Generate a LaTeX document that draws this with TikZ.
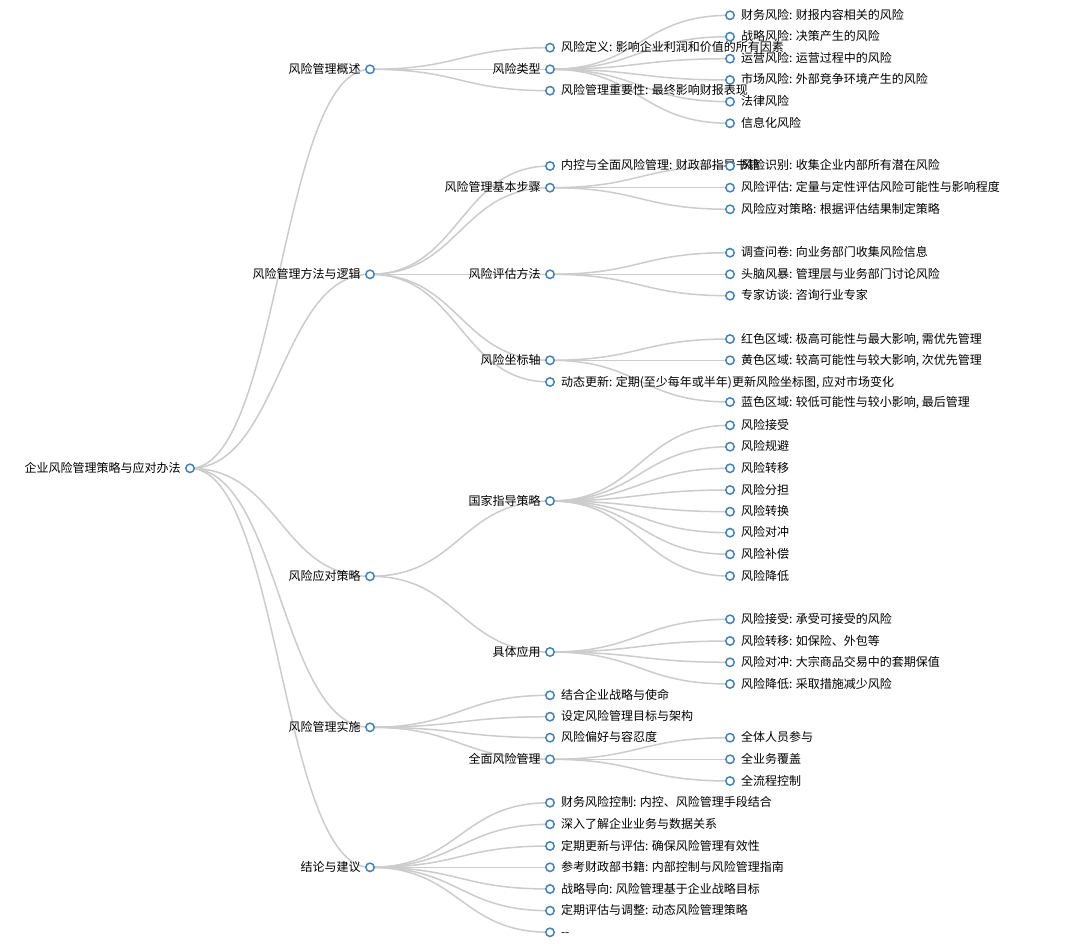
\documentclass[tikz,border=0pt]{standalone}
\usepackage{fontspec}
\newfontfamily\cjk{Noto Sans CJK SC}
\usetikzlibrary{backgrounds}
\definecolor{nodeblue}{HTML}{4682B4}
\definecolor{linkgray}{HTML}{CCCCCC}
\begin{document}
\begin{tikzpicture}[x=1pt,y=-1pt,
  dot/.style={circle, draw=nodeblue, fill=white, line width=1.5pt, minimum size=8.4pt, inner sep=0pt, outer sep=0pt},
  txt/.style={font=\cjk\fontsize{12}{14}\selectfont, text=black, inner sep=0pt, text height=9.6pt, text depth=1.6pt},
  lr/.style={label={[txt,label distance=6.6pt]right:{#1}}},
  ll/.style={label={[txt,label distance=5pt]left:{#1}}},
  link/.style={draw=linkgray, line width=1.5pt, to path={.. controls +(90,0) and +(-90,0) .. (\tikztotarget)}}]
\useasboundingbox (0,0) rectangle (1078,944);
% depth 0
\node[dot,ll={企业风险管理策略与应对办法}] (root) at (190,468.3) {};
% depth 1
\node[dot,ll={风险管理概述}] (a) at (370,69.3) {};
\node[dot,ll={风险管理方法与逻辑}] (b) at (370,274.3) {};
\node[dot,ll={风险应对策略}] (c) at (370,576.3) {};
\node[dot,ll={风险管理实施}] (d) at (370,727.3) {};
\node[dot,ll={结论与建议}] (e) at (370,867.3) {};
% depth 2
\node[dot,lr={风险定义: 影响企业利润和价值的所有因素}] (a1) at (550,47.7) {};
\node[dot,ll={风险类型}] (a2) at (550,69.3) {};
\node[dot,lr={风险管理重要性: 最终影响财报表现}] (a3) at (550,90.7) {};
\node[dot,lr={内控与全面风险管理: 财政部指导书籍}] (b1) at (550,166) {};
\node[dot,ll={风险管理基本步骤}] (b2) at (550,187.7) {};
\node[dot,ll={风险评估方法}] (b3) at (550,274.3) {};
\node[dot,ll={风险坐标轴}] (b4) at (550,360.3) {};
\node[dot,lr={动态更新: 定期(至少每年或半年)更新风险坐标图, 应对市场变化}] (b5) at (550,382) {};
\node[dot,ll={国家指导策略}] (c1) at (550,501) {};
\node[dot,ll={具体应用}] (c2) at (550,652) {};
\node[dot,lr={结合企业战略与使命}] (d1) at (550,695.3) {};
\node[dot,lr={设定风险管理目标与架构}] (d2) at (550,716.7) {};
\node[dot,lr={风险偏好与容忍度}] (d3) at (550,737.7) {};
\node[dot,ll={全面风险管理}] (d4) at (550,759.3) {};
\node[dot,lr={财务风险控制: 内控、风险管理手段结合}] (e1) at (550,802.7) {};
\node[dot,lr={深入了解企业业务与数据关系}] (e2) at (550,824.3) {};
\node[dot,lr={定期更新与评估: 确保风险管理有效性}] (e3) at (550,846) {};
\node[dot,lr={参考财政部书籍: 内部控制与风险管理指南}] (e4) at (550,867.3) {};
\node[dot,lr={战略导向: 风险管理基于企业战略目标}] (e5) at (550,889) {};
\node[dot,lr={定期评估与调整: 动态风险管理策略}] (e6) at (550,910.7) {};
\node[dot,lr={{-}{-}}] (e7) at (550,932.3) {};
% depth 3
\node[dot,lr={财务风险: 财报内容相关的风险}] (a2a) at (730,15.3) {};
\node[dot,lr={战略风险: 决策产生的风险}] (a2b) at (730,36.7) {};
\node[dot,lr={运营风险: 运营过程中的风险}] (a2c) at (730,58.7) {};
\node[dot,lr={市场风险: 外部竞争环境产生的风险}] (a2d) at (730,80) {};
\node[dot,lr={法律风险}] (a2e) at (730,101.7) {};
\node[dot,lr={信息化风险}] (a2f) at (730,123.3) {};
\node[dot,lr={风险识别: 收集企业内部所有潜在风险}] (b2a) at (730,166) {};
\node[dot,lr={风险评估: 定量与定性评估风险可能性与影响程度}] (b2b) at (730,187.7) {};
\node[dot,lr={风险应对策略: 根据评估结果制定策略}] (b2c) at (730,209.3) {};
\node[dot,lr={调查问卷: 向业务部门收集风险信息}] (b3a) at (730,252.7) {};
\node[dot,lr={头脑风暴: 管理层与业务部门讨论风险}] (b3b) at (730,274.3) {};
\node[dot,lr={专家访谈: 咨询行业专家}] (b3c) at (730,295.7) {};
\node[dot,lr={红色区域: 极高可能性与最大影响, 需优先管理}] (b4a) at (730,339) {};
\node[dot,lr={黄色区域: 较高可能性与较大影响, 次优先管理}] (b4b) at (730,360.3) {};
\node[dot,lr={蓝色区域: 较低可能性与较小影响, 最后管理}] (b4c) at (730,402) {};
\node[dot,lr={风险接受}] (c1a) at (730,425.3) {};
\node[dot,lr={风险规避}] (c1b) at (730,446.7) {};
\node[dot,lr={风险转移}] (c1c) at (730,468.3) {};
\node[dot,lr={风险分担}] (c1d) at (730,490) {};
\node[dot,lr={风险转换}] (c1e) at (730,511.7) {};
\node[dot,lr={风险对冲}] (c1f) at (730,532.7) {};
\node[dot,lr={风险补偿}] (c1g) at (730,554.3) {};
\node[dot,lr={风险降低}] (c1h) at (730,576) {};
\node[dot,lr={风险接受: 承受可接受的风险}] (c2a) at (730,619.3) {};
\node[dot,lr={风险转移: 如保险、外包等}] (c2b) at (730,641) {};
\node[dot,lr={风险对冲: 大宗商品交易中的套期保值}] (c2c) at (730,662.3) {};
\node[dot,lr={风险降低: 采取措施减少风险}] (c2d) at (730,684) {};
\node[dot,lr={全体人员参与}] (d4a) at (730,737.7) {};
\node[dot,lr={全业务覆盖}] (d4b) at (730,759.3) {};
\node[dot,lr={全流程控制}] (d4c) at (730,781) {};
\begin{pgfonlayer}{background}
\fill[white] (0,0) rectangle (1078,944);
\path[link] (root.center) edge (a.center) edge (b.center) edge (c.center) edge (d.center) edge (e.center);
\path[link] (a.center) edge (a1.center) edge (a2.center) edge (a3.center);
\path[link] (a2.center) edge (a2a.center) edge (a2b.center) edge (a2c.center) edge (a2d.center) edge (a2e.center) edge (a2f.center);
\path[link] (b.center) edge (b1.center) edge (b2.center) edge (b3.center) edge (b4.center) edge (b5.center);
\path[link] (b2.center) edge (b2a.center) edge (b2b.center) edge (b2c.center);
\path[link] (b3.center) edge (b3a.center) edge (b3b.center) edge (b3c.center);
\path[link] (b4.center) edge (b4a.center) edge (b4b.center) edge (b4c.center);
\path[link] (c.center) edge (c1.center) edge (c2.center);
\path[link] (c1.center) edge (c1a.center) edge (c1b.center) edge (c1c.center) edge (c1d.center) edge (c1e.center) edge (c1f.center) edge (c1g.center) edge (c1h.center);
\path[link] (c2.center) edge (c2a.center) edge (c2b.center) edge (c2c.center) edge (c2d.center);
\path[link] (d.center) edge (d1.center) edge (d2.center) edge (d3.center) edge (d4.center);
\path[link] (d4.center) edge (d4a.center) edge (d4b.center) edge (d4c.center);
\path[link] (e.center) edge (e1.center) edge (e2.center) edge (e3.center) edge (e4.center) edge (e5.center) edge (e6.center) edge (e7.center);
\end{pgfonlayer}
\end{tikzpicture}
\end{document}
